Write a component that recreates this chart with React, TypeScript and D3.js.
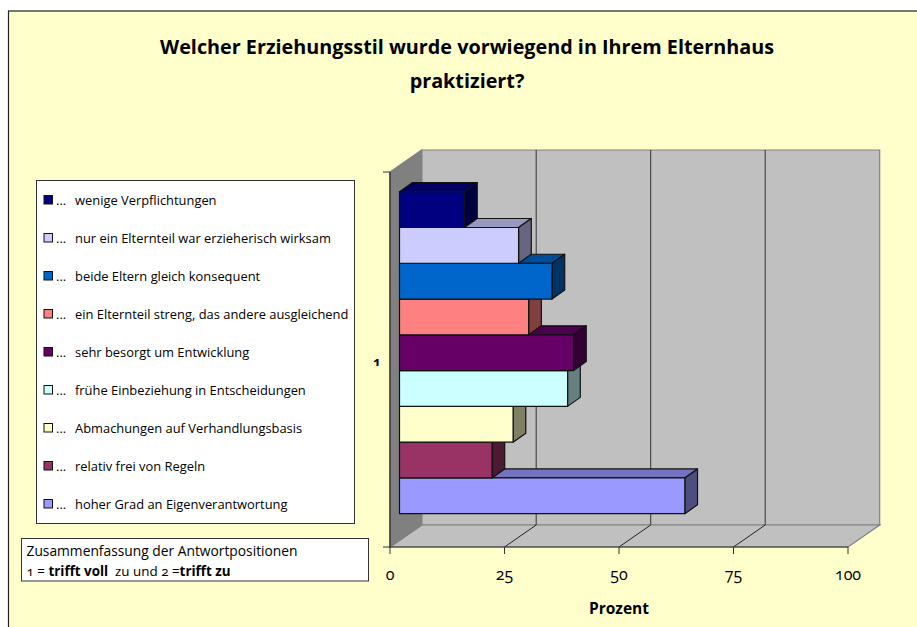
import React, { useEffect, useRef } from "react"
import * as d3 from "d3"

const FONT = "'Open Sans', sans-serif"

const titleLines = ["Welcher Erziehungsstil wurde vorwiegend in Ihrem Elternhaus", "praktiziert?"]
const answers = [
  "wenige Verpflichtungen",
  "nur ein Elternteil war erzieherisch wirksam",
  "beide Eltern gleich konsequent",
  "ein Elternteil streng, das andere ausgleichend",
  "sehr besorgt um Entwicklung",
  "frühe Einbeziehung in Entscheidungen",
  "Abmachungen auf Verhandlungsbasis",
  "relativ frei von Regeln",
  "hoher Grad an Eigenverantwortung",
]
const percents = [14.2, 26, 33.3, 28.2, 38, 36.7, 24.8, 20.2, 62.3]
const colors = ["#000080", "#ccccff", "#0066cc", "#ff8080", "#660066", "#ccffff", "#ffffcc", "#993366", "#9999ff"]
const xTicks = [0, 25, 50, 75, 100]

const shade = (c: string, k: number) => {
  const r = d3.rgb(c)
  return d3.rgb(r.r * k, r.g * k, r.b * k).formatHex()
}

export default function App() {
  const mount = useRef<SVGSVGElement>(null)

  useEffect(() => {
    const svg = d3.select(mount.current)
    svg.selectAll("*").remove()

    const x = d3.scaleLinear().domain([0, 100]).range([390, 848])
    const y = d3.scaleBand().domain(answers).range([191.7, 513.7])
    const depth = { dx: 31.7, dy: -22 }
    const bottom = 547
    const top = 172
    const line = d3.line()

    // panel
    svg.append("rect").attr("x", 8.5).attr("y", 11).attr("width", 920).attr("height", 640)
      .attr("fill", "#ffffcc").attr("stroke", "#222").attr("stroke-width", 1.2)

    // title
    svg.append("g").selectAll("text").data(titleLines).enter().append("text")
      .attr("x", 467).attr("y", (d, i) => 54 + i * 34)
      .attr("text-anchor", "middle").attr("font-size", 19.8).attr("font-weight", 700)
      .text(d => d)

    // walls
    const wall = (pts: [number, number][], fill: string) =>
      svg.append("path").attr("d", line(pts) + "Z").attr("fill", fill).attr("stroke", "#808080").attr("stroke-width", 1.2)
    const x0 = x(0), x1 = x(100)
    wall([[x0 + depth.dx, top + depth.dy], [x1 + depth.dx, top + depth.dy], [x1 + depth.dx, bottom + depth.dy], [x0 + depth.dx, bottom + depth.dy]], "#c0c0c0")
    wall([[x0, bottom], [x1, bottom], [x1 + depth.dx, bottom + depth.dy], [x0 + depth.dx, bottom + depth.dy]], "#c0c0c0")
    wall([[x0, top], [x0 + depth.dx, top + depth.dy], [x0 + depth.dx, bottom + depth.dy], [x0, bottom]], "#808080")

    // grid
    const grid = svg.append("g").attr("fill", "none").attr("stroke-width", 1)
    xTicks.slice(1, -1).forEach(t => {
      grid.append("path").attr("stroke", "#333").attr("d", line([[x(t) + depth.dx, top + depth.dy], [x(t) + depth.dx, bottom + depth.dy]]))
      grid.append("path").attr("stroke", "#222").attr("d", line([[x(t) + depth.dx, bottom + depth.dy], [x(t), bottom]]))
    })

    // axes
    const axis = svg.append("g").attr("stroke", "#333").attr("fill", "none").attr("stroke-width", 1)
    axis.append("path").attr("d", line([[x0, top], [x0, bottom]])).attr("stroke-width", 1.4)
    axis.append("path").attr("d", line([[x0 - 7, bottom], [x1, bottom]]))
    axis.append("path").attr("d", line([[x0 - 7, top], [x0, top]]))
    xTicks.forEach(t => axis.append("path").attr("d", line([[x(t), bottom], [x(t), bottom + 7]])))

    svg.append("g").selectAll("text").data(xTicks).enter().append("text")
      .attr("x", d => x(d)).attr("y", 580).attr("text-anchor", "middle").attr("font-size", 16)
      .style("font-feature-settings", "'onum'").text(d => d)
    svg.append("text").attr("x", 377).attr("y", 366).attr("text-anchor", "middle").attr("font-size", 13).attr("font-weight", 700)
      .style("font-feature-settings", "'onum'").text("1")
    svg.append("text").attr("x", 619).attr("y", 614).attr("text-anchor", "middle").attr("font-size", 15.5).attr("font-weight", 700).text("Prozent")

    // bars, bottom one first so the upper ones cover its top face
    const barX = x0 + 9.5
    const width = (v: number) => x(v) - x0
    const bd = { dx: 12.7, dy: -9 }
    const bars = svg.append("g").attr("stroke", "#111").attr("stroke-width", 1.2).attr("stroke-linejoin", "round")
    d3.range(answers.length).reverse().forEach(i => {
      const yy = y(answers[i])!, h = y.bandwidth(), r = barX + width(percents[i])
      bars.append("path").attr("fill", shade(colors[i], 0.75))
        .attr("d", line([[barX, yy], [barX + bd.dx, yy + bd.dy], [r + bd.dx, yy + bd.dy], [r, yy]]) + "Z")
      bars.append("path").attr("fill", shade(colors[i], 0.5))
        .attr("d", line([[r, yy], [r + bd.dx, yy + bd.dy], [r + bd.dx, yy + h + bd.dy], [r, yy + h]]) + "Z")
      bars.append("rect").attr("x", barX).attr("y", yy).attr("width", r - barX).attr("height", h).attr("fill", colors[i])
    })

    // legend box
    svg.append("rect").attr("x", 36.5).attr("y", 180.5).attr("width", 318).attr("height", 343)
      .attr("fill", "#fff").attr("stroke", "#333")
    const legendY = d3.scalePoint().domain(answers).range([200, 504])
    const rows = svg.append("g").selectAll("g").data(answers).enter().append("g")
      .attr("transform", d => `translate(0,${legendY(d)})`)
    rows.append("rect").attr("x", 44).attr("y", -4.5).attr("width", 8.5).attr("height", 8.5)
      .attr("fill", (d, i) => colors[i]).attr("stroke", "#111")
    rows.append("text").attr("x", 56).attr("y", 5).attr("font-size", 12.9).text("...")
    rows.append("text").attr("x", 75).attr("y", 5).attr("font-size", 12.9).text(d => d)

    // note box
    svg.append("rect").attr("x", 21.5).attr("y", 538.5).attr("width", 347).attr("height", 42.5)
      .attr("fill", "#fff").attr("stroke", "#333")
    svg.append("text").attr("x", 26.5).attr("y", 556).attr("font-size", 13.8).text("Zusammenfassung der Antwortpositionen")
    const note = svg.append("text").attr("x", 26.5).attr("y", 576).attr("font-size", 13.4).style("font-feature-settings", "'onum'")
    note.append("tspan").text("1 = ")
    note.append("tspan").attr("font-weight", 700).text("trifft voll")
    note.append("tspan").text("\u00a0\u00a0zu und 2 =")
    note.append("tspan").attr("font-weight", 700).text("trifft zu")
  }, [])

  return (
    <svg ref={mount} width={917} height={627}
      style={{ position: "fixed", left: 0, top: 0, fontFamily: FONT }} />
  )
}
